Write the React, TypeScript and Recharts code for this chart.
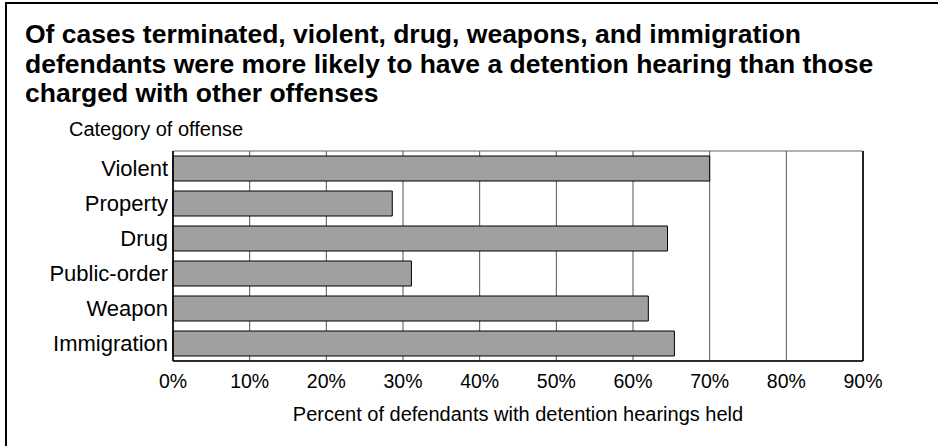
import React from 'react';
import { BarChart, Bar, XAxis, YAxis, CartesianGrid, ReferenceLine, ReferenceArea, Label } from 'recharts';

const categories = ['Violent', 'Property', 'Drug', 'Public-order', 'Weapon', 'Immigration'];
const percentWithHearing = [70.0, 28.6, 64.5, 31.1, 62.0, 65.4];
const xTicks = [0, 10, 20, 30, 40, 50, 60, 70, 80, 90];

const titleLines = [
  'Of cases terminated, violent, drug, weapons, and immigration',
  'defendants were more likely to have a detention hearing than those',
  'charged with other offenses',
];
const yAxisTitle = 'Category of offense';
const xAxisTitle = 'Percent of defendants with detention hearings held';

const data = categories.map((c, i) => ({ category: c, value: percentWithHearing[i] }));

const FONT = '"Liberation Sans", Arial, Helvetica, sans-serif';

export default function App() {
  return (
    <div style={{ position: 'absolute', left: 0, top: 0, width: 938, height: 446, background: '#fff', overflow: 'hidden', fontFamily: FONT }}>
      <div style={{ position: 'absolute', left: 5, top: 2, width: 940, height: 450, borderLeft: '2px solid #000', borderTop: '2px solid #000', boxSizing: 'border-box' }} />
      <div style={{ position: 'absolute', left: 25, top: 20, fontSize: 26.5, fontWeight: 'bold', lineHeight: '29.5px', color: '#000', whiteSpace: 'nowrap' }}>
        {titleLines.map((l, i) => (
          <div key={i}>{l}</div>
        ))}
      </div>
      <div style={{ position: 'absolute', left: 69, top: 117, fontSize: 20, lineHeight: '24px', color: '#000' }}>
        {yAxisTitle}
      </div>
      <div style={{ position: 'absolute', left: 0, top: 0 }}>
        <BarChart
          width={938}
          height={446}
          data={data}
          layout="vertical"
          margin={{ top: 151, right: 75, bottom: 0, left: 0 }}
        >
          <ReferenceArea x1={0} x2={90} fill="none" stroke="#666" strokeWidth={1} />
          <CartesianGrid horizontal={false} vertical stroke="#555" strokeWidth={1} />
          <XAxis
            type="number"
            dataKey="value"
            domain={[0, 90]}
            ticks={xTicks}
            tickFormatter={(v: number) => `${v}%`}
            axisLine={{ stroke: '#000', strokeWidth: 1.5 }}
            tickLine={false}
            tickSize={8}
            tickMargin={5}
            height={85}
            tick={{ fill: '#000', fontSize: 19.5, fontFamily: FONT }}
            interval={0}
          >
            <Label value={xAxisTitle} position="insideBottom" offset={25} style={{ fill: '#000', fontSize: 20, fontFamily: FONT }} />
          </XAxis>
          <YAxis
            type="category"
            dataKey="category"
            width={173}
            axisLine={{ stroke: '#000', strokeWidth: 1.5 }}
            tickLine={false}
            tickSize={3}
            tickMargin={2}
            tick={{ fill: '#000', fontSize: 22, fontFamily: FONT }}
            interval={0}
          />
          <ReferenceLine x={90} stroke="#000" strokeWidth={1.5} />
          <Bar dataKey="value" fill="#a0a0a0" stroke="#000" strokeWidth={1} barSize={25} isAnimationActive={false} />
        </BarChart>
      </div>
    </div>
  );
}
